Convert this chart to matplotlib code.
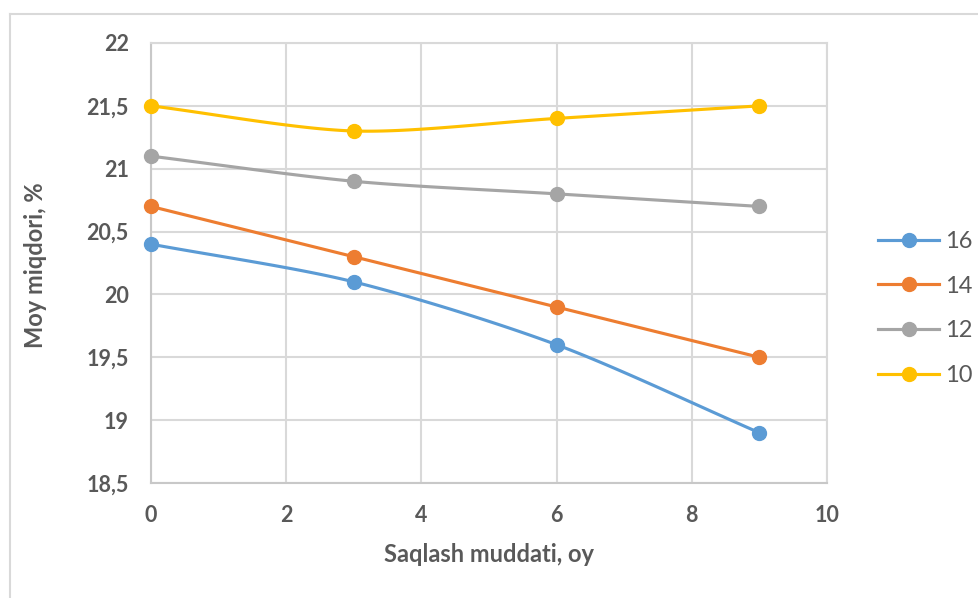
import numpy as np
import matplotlib
matplotlib.use("Agg")
import matplotlib.pyplot as plt
from matplotlib.ticker import FuncFormatter, MultipleLocator
from matplotlib.lines import Line2D

months = [0, 3, 6, 9]
series_names = ["16", "14", "12", "10"]
s16 = [20.4, 20.1, 19.6, 18.9]
s14 = [20.7, 20.3, 19.9, 19.5]
s12 = [21.1, 20.9, 20.8, 20.7]
s10 = [21.5, 21.3, 21.4, 21.5]
colors = ["#5B9BD5", "#ED7D31", "#A5A5A5", "#FFC000"]

def smooth(x, y, n=40):
    x = np.asarray(x, float); y = np.asarray(y, float)
    px = np.concatenate([[2*x[0]-x[1]], x, [2*x[-1]-x[-2]]])
    py = np.concatenate([[2*y[0]-y[1]], y, [2*y[-1]-y[-2]]])
    xs, ys = [], []
    for i in range(1, len(px)-2):
        t = np.linspace(0, 1, n)
        p0, p1, p2, p3 = [np.array([px[j], py[j]]) for j in (i-1, i, i+1, i+2)]
        m1 = (p2 - p0) / 2 * 0.85
        m2 = (p3 - p1) / 2 * 0.85
        h00 = 2*t**3 - 3*t**2 + 1
        h10 = t**3 - 2*t**2 + t
        h01 = -2*t**3 + 3*t**2
        h11 = t**3 - t**2
        pts = (np.outer(h00, p1) + np.outer(h10, m1) + np.outer(h01, p2) + np.outer(h11, m2))
        xs.extend(pts[:, 0]); ys.extend(pts[:, 1])
    return np.array(xs), np.array(ys)

plt.rcParams['font.family'] = ['Lato', 'DejaVu Sans']
fig = plt.figure(figsize=(9.79, 5.98), dpi=100)
ax = fig.add_axes([0.1542, 0.1923, 0.6905, 0.7358])

grid_c = "#D9D9D9"
txt_c = "#595959"

handles = []
for name, vals, c in zip(series_names, [s16, s14, s12, s10], colors):
    xs, ys = smooth(months, vals)
    ax.plot(xs, ys, color=c, lw=2.25, solid_capstyle='round', zorder=3, clip_on=False)
    ax.plot(months, vals, 'o', color=c, ms=10, zorder=4, clip_on=False)
    handles.append(Line2D([0], [0], color=c, lw=2.25, marker='o', ms=10))

ax.set_xlim(0, 10)
ax.set_ylim(18.5, 22)
ax.xaxis.set_major_locator(MultipleLocator(2))
ax.yaxis.set_major_locator(MultipleLocator(0.5))
ax.yaxis.set_major_formatter(FuncFormatter(lambda v, p: (f"{v:g}").replace('.', ',')))
ax.grid(True, color=grid_c, lw=1.5)
ax.set_axisbelow(True)
for s in ax.spines.values():
    s.set_color(grid_c); s.set_linewidth(1.5)
ax.spines['left'].set_color("#C8C8C8")
ax.spines['bottom'].set_color("#C8C8C8")
ax.tick_params(length=0, labelsize=15.5, labelcolor=txt_c)
ax.tick_params(axis='x', pad=16)
ax.tick_params(axis='y', pad=16)
for lab in ax.get_xticklabels() + ax.get_yticklabels():
    lab.set_fontweight('bold')

fig.text(489/979, 1 - 555/598, "Saqlash muddati, oy", fontsize=17, fontweight='bold',
         color=txt_c, ha='center', va='center')
fig.text(36/979, 1 - 265/598, "Moy miqdori, %", fontsize=17, fontweight='bold',
         color=txt_c, ha='center', va='center', rotation=90)

leg = fig.legend(handles, series_names, loc='center left', bbox_to_anchor=(878/979, 1 - 308.5/598),
                 frameon=False, fontsize=17, labelcolor=txt_c, handlelength=2.6,
                 handletextpad=0.25, labelspacing=1.0, borderpad=0, borderaxespad=0)

# chart area border (partially visible)
fig.add_artist(Line2D([10/979, 10/979], [0, 1 - 14/598], color="#D9D9D9", lw=1.5, transform=fig.transFigure))
fig.add_artist(Line2D([10/979, 978/979], [1 - 14/598, 1 - 14/598], color="#D9D9D9", lw=1.5, transform=fig.transFigure))

fig.savefig("out.png", dpi=100, facecolor="white")
